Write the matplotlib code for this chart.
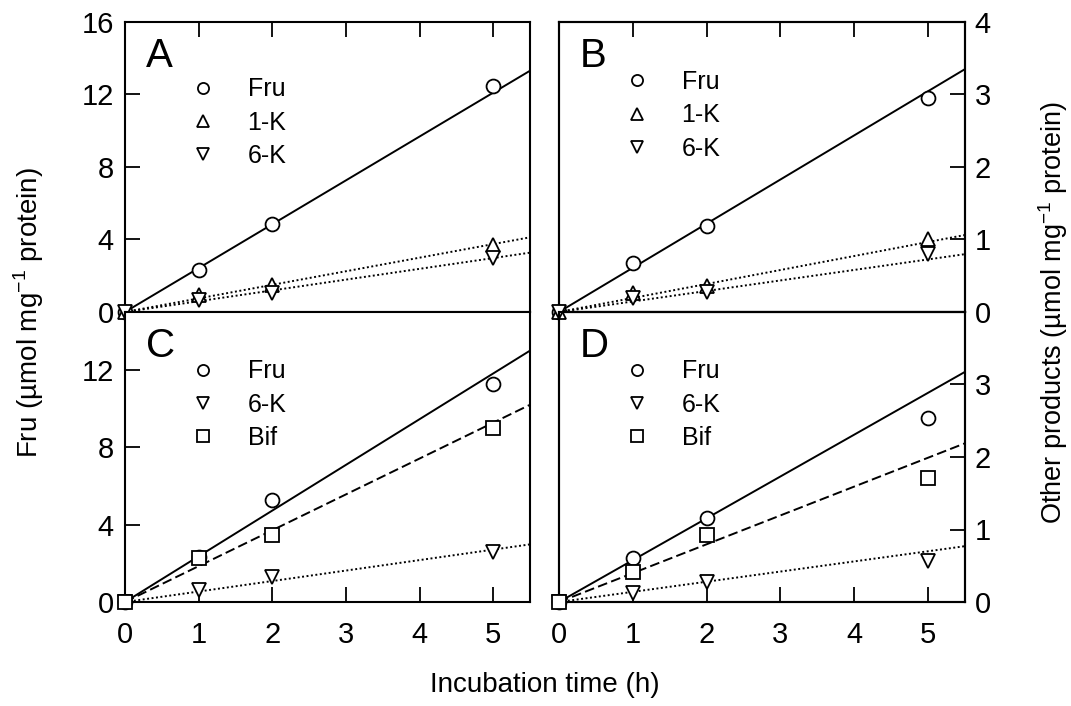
import numpy as np
import matplotlib
matplotlib.use("Agg")
import matplotlib.pyplot as plt

plt.rcParams['font.family'] = ['Liberation Sans', 'DejaVu Sans']
plt.rcParams['mathtext.fontset'] = 'custom'
plt.rcParams['mathtext.rm'] = 'Liberation Sans'

# incubation time (h)
time = [0, 1, 2, 5]

# panel A (Fru left axis, others left axis too)
A_fru = [0, 2.3, 4.84, 12.47]
A_1k = [0, 0.94, 1.5, 3.7]
A_6k = [0, 0.66, 1.07, 2.96]
A_slopes = [2.42, 0.749, 0.595]

# panel B (Fru on left scale 0-16, others on right scale 0-4)
B_fru = [0, 2.69, 4.76, 11.82]
B_1k = [0, 0.26, 0.36, 1.0]
B_6k = [0, 0.19, 0.28, 0.80]
B_slopes = [2.436, 0.193, 0.145]

# panel C
C_fru = [0, 2.34, 5.3, 11.3]
C_6k = [0, 0.62, 1.31, 2.6]
C_bif = [0, 2.3, 3.47, 8.98]
C_slopes = [2.364, 0.542, 1.855]

# panel D (Fru on left scale 0-15, others on right scale 0-4)
D_fru = [0, 2.26, 4.33, 9.5]
D_6k = [0, 0.13, 0.27, 0.57]
D_bif = [0, 0.42, 0.92, 1.71]
D_slopes = [2.164, 0.14, 0.398]

XMAX = 5.5
LS = {'Fru': '-', '1-K': (0, (1, 1.3)), '6-K': (0, (1, 1.3)), 'Bif': (0, (5, 2.2))}
MK = {'Fru': 'o', '1-K': '^', '6-K': 'v', 'Bif': 's'}


def series(ax, y, slope, name):
    xs = np.array([0, XMAX])
    ax.plot(xs, slope * xs, color='black', lw=1.4, ls=LS[name], zorder=2)
    h, = ax.plot(time, y, ls='none', marker=MK[name], ms=10, mfc='white',
                 mec='black', mew=1.3, zorder=3, label=name, clip_on=False)
    return h


def style(ax):
    ax.set_xlim(0, XMAX)
    for s in ax.spines.values():
        s.set_linewidth(1.5)
    ax.tick_params(direction='in', length=11, width=1.3, labelsize=21)


fig = plt.figure(figsize=(10.71, 7.06), dpi=100)
w1, w2, h = 0.3782, 0.3791, 0.4108
axA = fig.add_axes([0.1167, 0.5581, w1, h])
axB = fig.add_axes([0.5219, 0.5581, w2, h])
axC = fig.add_axes([0.1167, 0.1473, w1, h])
axD = fig.add_axes([0.5219, 0.1473, w2, h])
axB2 = axB.twinx()
axD2 = axD.twinx()

for ax in [axA, axB, axC, axD, axB2, axD2]:
    style(ax)

# panel A
hA = [series(axA, A_fru, A_slopes[0], 'Fru'),
      series(axA, A_1k, A_slopes[1], '1-K'),
      series(axA, A_6k, A_slopes[2], '6-K')]
axA.set_ylim(0, 16)
axA.set_yticks([0, 4, 8, 12, 16])
axA.tick_params(axis='y', left=True, right=False, pad=8)
axA.tick_params(axis='x', top=True, bottom=False, labelbottom=False)
axA.set_xticks([0, 1, 2, 3, 4, 5])

# panel B
hB = [series(axB, B_fru, B_slopes[0], 'Fru')]
axB.set_ylim(0, 16)
axB.tick_params(axis='y', left=False, labelleft=False)
hB += [series(axB2, B_1k, B_slopes[1], '1-K'),
       series(axB2, B_6k, B_slopes[2], '6-K')]
axB2.set_ylim(0, 4)
axB2.set_yticks([0, 1, 2, 3, 4])
axB2.tick_params(axis='y', pad=7)
axB.set_xticks([0, 1, 2, 3, 4, 5])
axB.tick_params(axis='x', top=True, bottom=False, labelbottom=False)
axB2.tick_params(axis='x', top=False, bottom=False)

# panel C
hC = [series(axC, C_fru, C_slopes[0], 'Fru'),
      series(axC, C_6k, C_slopes[1], '6-K'),
      series(axC, C_bif, C_slopes[2], 'Bif')]
axC.set_ylim(0, 15)
axC.set_yticks([0, 4, 8, 12])
axC.tick_params(axis='y', pad=8)
axC.set_xticks([0, 1, 2, 3, 4, 5])
axC.tick_params(axis='x', pad=14)

# panel D
hD = [series(axD, D_fru, D_slopes[0], 'Fru')]
axD.set_ylim(0, 15)
axD.tick_params(axis='y', left=False, labelleft=False)
hD += [series(axD2, D_6k, D_slopes[1], '6-K'),
       series(axD2, D_bif, D_slopes[2], 'Bif')]
axD2.set_ylim(0, 4)
axD2.set_yticks([0, 1, 2, 3])
axD2.tick_params(axis='y', pad=7)
axD.set_xticks([0, 1, 2, 3, 4, 5])
axD.tick_params(axis='x', pad=14)

# panel letters and legends
for ax, letter, hs, ly in [(axA, 'A', hA, 0.843), (axB, 'B', hB, 0.868),
                           (axC, 'C', hC, 0.871), (axD, 'D', hD, 0.871)]:
    top = axB2 if ax is axB else (axD2 if ax is axD else ax)
    top.text(0.052, 0.948, letter, transform=ax.transAxes, fontsize=29,
             va='top', ha='left')
    leg = top.legend(handles=hs, loc='upper left', bbox_to_anchor=(0.105, ly),
                     frameon=False, fontsize=18, markerscale=0.8,
                     handlelength=2.0, handletextpad=0.8, labelspacing=0.37,
                     borderaxespad=0)

fig.text(0.027, 0.558, 'Fru (µmol mg$^{-1}$ protein)', rotation=90,
         fontsize=20, ha='center', va='center')
fig.text(0.983, 0.558, 'Other products (µmol mg$^{-1}$ protein)', rotation=90,
         fontsize=19.5, ha='center', va='center')
fig.text(0.509, 0.03, 'Incubation time (h)', fontsize=20, ha='center',
         va='center')

plt.savefig("out.png", dpi=100)
